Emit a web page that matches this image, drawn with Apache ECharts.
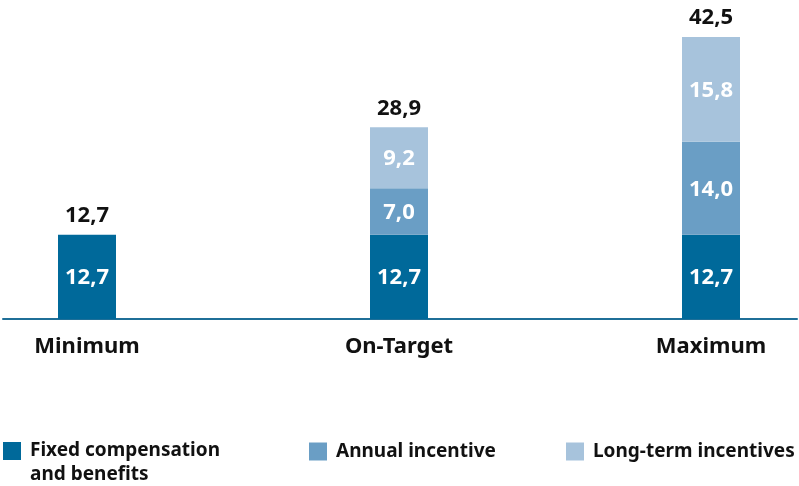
<!DOCTYPE html>
<html>
<head>
<meta charset="utf-8">
<script src="https://cdn.jsdelivr.net/npm/echarts@6/dist/echarts.min.js"></script>
<style>html,body{margin:0;padding:0;background:#fff;}#c{width:799px;height:486px;}</style>
</head>
<body>
<div id="c"></div>
<script>
const categories = ['Minimum', 'On-Target', 'Maximum'];
const seriesNames = ['Fixed compensation and benefits', 'Annual incentive', 'Long-term incentives'];
const fixedComp = [12.7, 12.7, 12.7];
const annualIncentive = [0, 7.0, 14.0];
const longTermIncentives = [0, 9.2, 15.8];
const totals = [12.7, 28.9, 42.5];
const colors = ['#00699a', '#6a9ec5', '#a7c3dc'];

const fmt = v => v.toFixed(1).replace('.', ',');
const FONT = 'Noto Sans';
const chart = echarts.init(document.getElementById('c'), null, {renderer: 'canvas'});

function seg(name, data, color) {
  return {
    name: name, type: 'bar', stack: 'pay', data: data, barWidth: 58,
    itemStyle: {color: color},
    label: {
      show: true, position: 'inside', offset: [0, 1], color: '#fff', fontFamily: FONT,
      fontWeight: 'bold', fontSize: 22,
      formatter: p => p.value ? fmt(p.value) : ''
    },
    emphasis: {disabled: true}
  };
}

const legendBase = {
  top: 442, padding: 0, itemWidth: 18, itemHeight: 18, icon: 'rect', selectedMode: false,
  textStyle: {color: '#111', fontFamily: FONT, fontWeight: 'bold', fontSize: 19, padding: [0, 0, 0, 4]}
};

chart.setOption({
  animation: false,
  grid: [
    {left: -69, right: -68, top: 37, bottom: 167, outerBoundsMode: 'none'},
    {left: 3, right: 2, top: 37, bottom: 167, outerBoundsMode: 'none'}
  ],
  xAxis: [
    {
      type: 'category', data: categories, gridIndex: 0,
      axisLine: {show: false},
      axisTick: {show: false},
      axisLabel: {color: '#111', fontFamily: FONT, fontWeight: 'bold', fontSize: 22, margin: 17}
    },
    {
      type: 'category', data: categories, gridIndex: 1,
      axisLine: {show: true, lineStyle: {color: '#1f6f98', width: 2}},
      axisTick: {show: false}, axisLabel: {show: false}, splitLine: {show: false}
    }
  ],
  yAxis: [
    {type: 'value', min: 0, max: 42.5, show: false, gridIndex: 0, splitLine: {show: false}},
    {type: 'value', min: 0, max: 42.5, show: false, gridIndex: 1, splitLine: {show: false}}
  ],
  legend: [
    Object.assign({}, legendBase, {
      left: 3, top: 415, data: [seriesNames[0]],
      formatter: () => '\nFixed compensation\nand benefits',
      textStyle: Object.assign({}, legendBase.textStyle, {lineHeight: 24})
    }),
    Object.assign({}, legendBase, {left: 309, data: [seriesNames[1]]}),
    Object.assign({}, legendBase, {left: 566, data: [seriesNames[2]]})
  ],
  series: [
    seg(seriesNames[0], fixedComp, colors[0]),
    seg(seriesNames[1], annualIncentive, colors[1]),
    seg(seriesNames[2], longTermIncentives, colors[2]),
    {
      name: 'Total', type: 'bar', stack: 'pay', data: totals.map(() => 0), barWidth: 58,
      itemStyle: {color: 'transparent'},
      label: {
        show: true, position: 'top', distance: 8, color: '#111', fontFamily: FONT,
        fontWeight: 'bold', fontSize: 22,
        formatter: p => fmt(totals[p.dataIndex])
      },
      emphasis: {disabled: true}
    }
  ]
});
</script>
</body>
</html>
